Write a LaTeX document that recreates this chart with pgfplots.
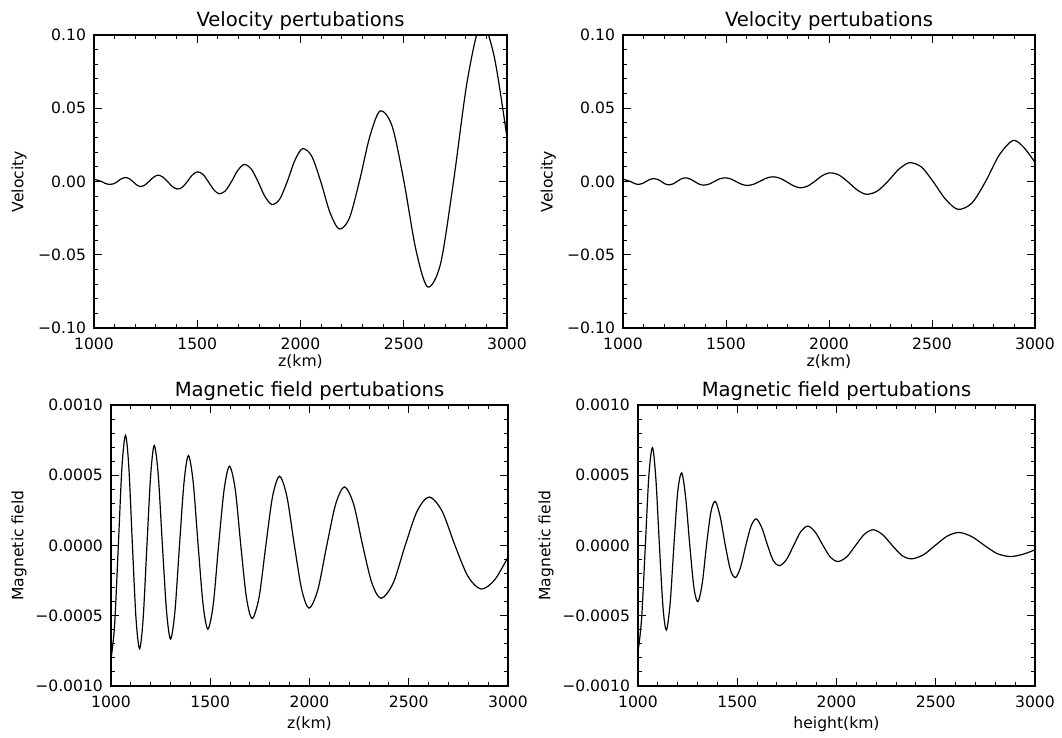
\documentclass[border=0pt]{standalone}
\usepackage{fontspec}
\setmainfont{DejaVu Sans}
\usepackage{pgfplots}
\usepackage{pgfplotstable}
\pgfplotsset{compat=1.18}

\pgfplotstableread{
z v
1000 0.0016
1036 0
1056 -0.0014
1077 -0.0020
1096 -0.00152
1114 0
1132 0.00177
1151 0.0027
1170 0.00202
1188 0
1206 -0.00227
1224 -0.0034
1245 -0.00255
1266 0
1288 0.00287
1309 0.0043
1332 0.00319
1356 0
1380 -0.00351
1404 -0.0052
1428 -0.0039
1452 0
1476 0.0044
1501 0.0066
1527 0.00496
1553 0
1580 -0.00559
1606 -0.0084
1636 -0.00644
1666 0
1696 0.00756
1727 0.0116
1760 0.00885
1794 0
1828 -0.0103
1862 -0.0157
1899 -0.01213
1936 0
1973 0.01449
2010 0.0224
2054 0.01737
2098 0
2142 -0.02089
2187 -0.0324
2236 -0.0253
2285 0
2336 0.03085
2386 0.0482
2444 0.03766
2501 0
2558 -0.046
2615 -0.0719
2678 -0.0563
2741 0
2808 0.069
2874 0.108
2937 0.086
3000 0.030
}\velA

\pgfplotstableread{
z v
1000 0.0016
1036 0
1056 -0.0014
1076 -0.0020
1094 -0.0014
1112 0
1130 0.0014
1148 0.0020
1167 0.0015
1186 0
1204 -0.0016
1223 -0.0023
1242 -0.0017
1262 0
1282 0.0017
1302 0.0025
1324 0.0018
1347 0
1370 -0.0018
1392 -0.0025
1418 -0.0018
1443 0
1469 0.0018
1495 0.0025
1522 0.0018
1548 0
1575 -0.00186
1602 -0.0027
1632 -0.00199
1663 0
1694 0.00217
1725 0.0032
1758 0.00244
1792 0
1826 -0.00283
1859 -0.0043
1894 -0.00329
1930 0
1966 0.00385
2002 0.0059
2046 0.0046
2090 0
2135 -0.00558
2180 -0.0087
2232 -0.00677
2285 0
2338 0.00822
2390 0.0128
2448 0.00999
2505 0
2566 -0.01217
2626 -0.0190
2693 -0.0148
2760 0
2826 0.01797
2893 0.0280
2946 0.0232
3000 0.013
}\velB

\pgfplotstableread{
z b
1000 -0.00081
1018 -0.00057
1037 0
1055 0.000554
1073 0.000784
1090 0.000554
1108 0
1126 -0.00052
1144 -0.000735
1162 -0.00052
1181 0
1200 0.000503
1218 0.000712
1238 0.000503
1259 0
1280 -0.000471
1300 -0.000666
1322 -0.000471
1345 0
1368 0.000452
1390 0.00064
1414 0.000452
1439 0
1464 -0.000421
1488 -0.000595
1515 -0.000421
1542 0
1570 0.000399
1597 0.000564
1626 0.000399
1654 0
1682 -0.000368
1711 -0.00052
1746 -0.000368
1780 0
1814 0.000349
1849 0.000493
1886 0.000349
1924 0
1961 -0.000315
1998 -0.000446
2042 -0.000315
2087 0
2132 0.000295
2176 0.000417
2222 0.000295
2268 0
2314 -0.000266
2361 -0.000376
2422 -0.000266
2482 0
2542 0.000244
2603 0.000345
2668 0.000244
2733 0
2798 -0.000219
2864 -0.00031
2932 -0.000246
3000 -0.000083
}\magA

\pgfplotstableread{
z b
1000 -0.000757
1018 -0.000524
1037 0
1055 0.000503
1073 0.000696
1090 0.000475
1108 0
1126 -0.000441
1143 -0.000602
1162 -0.00041
1181 0
1200 0.00038
1220 0.000517
1240 0.000343
1261 0
1282 -0.000302
1302 -0.0004
1324 -0.000266
1345 0
1367 0.000236
1389 0.000314
1414 0.000205
1440 0
1466 -0.000175
1491 -0.000228
1517 -0.000154
1543 0
1570 0.00014
1596 0.000189
1624 0.000125
1653 0
1682 -0.000109
1712 -0.000144
1748 -0.0001
1784 0
1820 0.0000987
1856 0.000138
1894 0.000093
1932 0
1970 -0.0000846
2008 -0.000114
2052 -0.0000803
2096 0
2140 0.0000795
2185 0.000112
2233 0.000076
2281 0
2329 -0.0000701
2377 -0.0000952
2437 -0.0000669
2497 0
2557 0.0000661
2617 0.0000929
2682 0.000063
2746 0
2810 -0.000058
2875 -0.0000786
2938 -0.000063
3000 -0.000031
}\magB

\pgfplotsset{
  idl/.style={
    scale only axis, anchor=south west,
    xmin=1000, xmax=3000,
    xtick={1000,1500,2000,2500,3000},
    xticklabels={1000,1500,2000,2500,3000},
    minor x tick num=4, minor y tick num=4,
    tick align=inside, tick pos=both,
    major tick length=3.8pt, minor tick length=2pt,
    axis line style={line width=0.6pt},
    tick style={black, line width=0.5pt},
    tick label style={font=\fontsize{7.8}{9}\selectfont},
    xticklabel style={yshift=-1.2pt},
    yticklabel style={xshift=-0.5pt},
    label style={font=\fontsize{7.8}{9}\selectfont},
    every axis title/.style={font=\fontsize{9.8}{11}\selectfont, at={(axis description cs:0.5,1)}, anchor=base, yshift=4pt},
    clip=true,
  },
  velo/.style={
    ymin=-0.1, ymax=0.1,
    ytick={-0.1,-0.05,0,0.05,0.1},
    yticklabels={−0.10,−0.05,0.00,0.05,0.10},
    width=206.5pt, height=146.5pt,
    title={Velocity pertubations},
    ylabel={Velocity}, xlabel={z(km)},
    ylabel style={at={(axis description cs:-0.171,0.5)}, anchor=base},
    xlabel style={at={(axis description cs:0.5,-0.133)}, anchor=base},
  },
  magn/.style={
    ymin=-0.001, ymax=0.001,
    ytick={-0.001,-0.0005,0,0.0005,0.001},
    yticklabels={−0.0010,−0.0005,0.0000,0.0005,0.0010},
    scaled y ticks=false,
    width=198.5pt, height=140.5pt,
    title={Magnetic field pertubations},
    ylabel={Magnetic field},
    ylabel style={at={(axis description cs:-0.2207,0.5)}, anchor=base},
    xlabel style={at={(axis description cs:0.5,-0.153)}, anchor=base},
  },
  curve/.style={black, line width=0.6pt, smooth, mark=none},
}

\begin{document}
\begin{tikzpicture}
\useasboundingbox (0,0) rectangle (531pt,369pt);

\begin{axis}[idl, velo, at={(47pt,205pt)}]
\addplot[curve] table[x=z, y=v] {\velA};
\end{axis}

\begin{axis}[idl, velo, at={(311.5pt,205pt)}, width=206pt]
\addplot[curve] table[x=z, y=v] {\velB};
\end{axis}

\begin{axis}[idl, magn, at={(55.5pt,26pt)}, xlabel={z(km)}]
\addplot[curve] table[x=z, y=b] {\magA};
\end{axis}

\begin{axis}[idl, magn, at={(319pt,26pt)}, xlabel={height(km)}]
\addplot[curve] table[x=z, y=b] {\magB};
\end{axis}

\end{tikzpicture}
\end{document}
